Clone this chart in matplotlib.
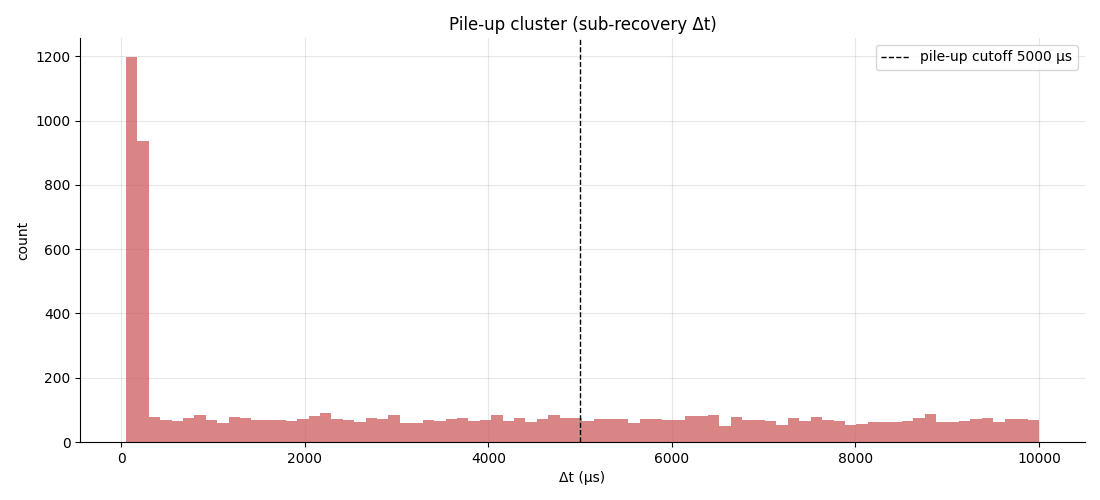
import numpy as np
import matplotlib.pyplot as plt

# histogram of pile-up delta t, 80 bins between 50 and 10000 us
bin_lo = 50
bin_hi = 10000
n_bins = 80
counts = [1197, 936, 77, 67, 64, 74, 83, 67, 58, 77,
          74, 67, 67, 67, 64, 70, 80, 89, 70, 67,
          61, 74, 70, 83, 58, 58, 67, 64, 70, 74,
          64, 67, 83, 64, 74, 61, 70, 83, 74, 74,
          64, 70, 70, 70, 58, 70, 70, 67, 67, 80,
          80, 83, 49, 77, 67, 67, 64, 52, 74, 64,
          77, 67, 64, 52, 55, 61, 61, 61, 64, 74,
          86, 61, 61, 64, 70, 74, 61, 70, 70, 67]
cutoff = 5000

edges = np.linspace(bin_lo, bin_hi, n_bins + 1)

fig = plt.figure(figsize=(11, 5), dpi=100)
ax = fig.add_axes([0.073, 0.116, 0.913, 0.808])

ax.hist(edges[:-1], bins=edges, weights=counts, color='indianred', alpha=0.75)
ax.axvline(cutoff, color='black', ls='--', lw=1, label='pile-up cutoff %d μs' % cutoff)

ax.set_title('Pile-up cluster (sub-recovery Δt)')
ax.set_xlabel('Δt (μs)')
ax.set_ylabel('count')
ax.grid(alpha=0.3)
ax.set_axisbelow(True)
ax.spines['top'].set_visible(False)
ax.spines['right'].set_visible(False)
ax.legend(loc='upper right')

fig.savefig('out.png')
